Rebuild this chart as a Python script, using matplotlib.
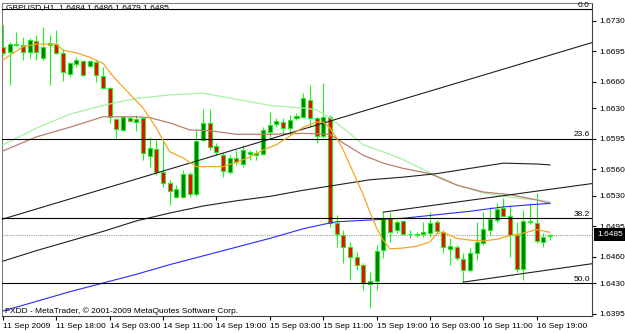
import matplotlib
matplotlib.use("Agg")
import matplotlib.pyplot as plt
import matplotlib.transforms as mtransforms

plt.rcParams['font.family'] = ['Liberation Sans', 'DejaVu Sans']

# GBPUSD H1 candles
opens = [1.6700, 1.6694, 1.6702, 1.6702, 1.6694, 1.6707, 1.6687, 1.6702, 1.6703, 1.6693,
         1.6669, 1.6680, 1.6684, 1.6678, 1.6683, 1.6667, 1.6653, 1.6617, 1.6605, 1.6619,
         1.6614, 1.6619, 1.6575, 1.6583, 1.6557, 1.6544, 1.6528, 1.6528, 1.6555, 1.6532,
         1.6593, 1.6613, 1.6587, 1.6576, 1.6557, 1.6573, 1.6566, 1.6577, 1.6576, 1.6577,
         1.6603, 1.6612, 1.6614, 1.6607, 1.6619, 1.6620, 1.6639, 1.6619, 1.6598, 1.6620,
         1.6499, 1.6485, 1.6471, 1.6460, 1.6451, 1.6429, 1.6432, 1.6468, 1.6504, 1.6491,
         1.6501, 1.6486, 1.6485, 1.6486, 1.6487, 1.6500, 1.6488, 1.6469, 1.6471, 1.6457,
         1.6445, 1.6464, 1.6476, 1.6491, 1.6502, 1.6516, 1.6507, 1.6485, 1.6446, 1.6500,
         1.6499, 1.6477, 1.6484]
highs = [1.6725, 1.6705, 1.6717, 1.6711, 1.6710, 1.6713, 1.6723, 1.6713, 1.6719, 1.6697,
         1.6682, 1.6688, 1.6685, 1.6685, 1.6685, 1.6677, 1.6654, 1.6619, 1.6621, 1.6621,
         1.6622, 1.6620, 1.6597, 1.6593, 1.6593, 1.6548, 1.6542, 1.6559, 1.6557, 1.6605,
         1.6629, 1.6629, 1.6590, 1.6580, 1.6576, 1.6582, 1.6588, 1.6582, 1.6582, 1.6608,
         1.6625, 1.6619, 1.6619, 1.6622, 1.6624, 1.6647, 1.6656, 1.6620, 1.6659, 1.6622,
         1.6508, 1.6491, 1.6477, 1.6465, 1.6453, 1.6443, 1.6473, 1.6511, 1.6511, 1.6502,
         1.6502, 1.6491, 1.6488, 1.6500, 1.6511, 1.6502, 1.6491, 1.6481, 1.6473, 1.6464,
         1.6470, 1.6500, 1.6511, 1.6517, 1.6521, 1.6527, 1.6519, 1.6500, 1.6513, 1.6521,
         1.6533, 1.6487, 1.6486]
lows = [1.6691, 1.6656, 1.6701, 1.6685, 1.6687, 1.6685, 1.6685, 1.6656, 1.6692, 1.6661,
        1.6665, 1.6677, 1.6667, 1.6677, 1.6660, 1.6652, 1.6613, 1.6596, 1.6604, 1.6614,
        1.6604, 1.6571, 1.6563, 1.6553, 1.6540, 1.6519, 1.6527, 1.6527, 1.6528, 1.6529,
        1.6592, 1.6582, 1.6576, 1.6551, 1.6555, 1.6565, 1.6563, 1.6571, 1.6571, 1.6576,
        1.6597, 1.6608, 1.6599, 1.6599, 1.6616, 1.6619, 1.6608, 1.6590, 1.6596, 1.6494,
        1.6471, 1.6453, 1.6433, 1.6445, 1.6422, 1.6401, 1.6422, 1.6459, 1.6477, 1.6487,
        1.6485, 1.6481, 1.6483, 1.6483, 1.6483, 1.6487, 1.6464, 1.6451, 1.6456, 1.6431,
        1.6443, 1.6456, 1.6473, 1.6485, 1.6500, 1.6505, 1.6460, 1.6443, 1.6433, 1.6497,
        1.6476, 1.6471, 1.6479]
closes = [1.6693, 1.6703, 1.6703, 1.6694, 1.6708, 1.6694, 1.6700, 1.6704, 1.6693, 1.6671,
          1.6681, 1.6685, 1.6668, 1.6684, 1.6668, 1.6653, 1.6620, 1.6606, 1.6620, 1.6615,
          1.6617, 1.6579, 1.6584, 1.6557, 1.6544, 1.6535, 1.6537, 1.6555, 1.6532, 1.6592,
          1.6613, 1.6586, 1.6580, 1.6558, 1.6573, 1.6568, 1.6582, 1.6580, 1.6579, 1.6605,
          1.6611, 1.6615, 1.6607, 1.6616, 1.6621, 1.6641, 1.6619, 1.6598, 1.6620, 1.6499,
          1.6486, 1.6471, 1.6460, 1.6451, 1.6430, 1.6432, 1.6467, 1.6504, 1.6488, 1.6500,
          1.6486, 1.6486, 1.6486, 1.6488, 1.6499, 1.6489, 1.6471, 1.6472, 1.6459, 1.6445,
          1.6464, 1.6477, 1.6492, 1.6503, 1.6515, 1.6507, 1.6485, 1.6446, 1.6501, 1.6501,
          1.6478, 1.6483, 1.6485]

# moving averages (bar index, value)
orange_idx = [0, 3, 5, 8, 9, 11, 13, 15, 16, 17, 19, 21, 23, 24, 25, 27, 29, 31, 33, 35,
              37, 39, 41, 43, 45, 47, 48, 49, 50, 51, 52, 53, 54, 55, 56, 57, 58, 60, 62,
              64, 65, 66, 68, 70, 72, 74, 76, 78, 80, 82]
orange_val = [1.6685, 1.6700, 1.6703, 1.6703, 1.6696, 1.6693, 1.6688, 1.6681, 1.6671, 1.6662,
              1.6646, 1.6630, 1.6607, 1.6593, 1.6580, 1.6573, 1.6563, 1.6563, 1.6563, 1.6568,
              1.6574, 1.6582, 1.6588, 1.6598, 1.6608, 1.6614, 1.6614, 1.6607, 1.6596, 1.6582,
              1.6565, 1.6548, 1.6531, 1.6511, 1.6493, 1.6479, 1.6469, 1.6470, 1.6472,
              1.6477, 1.6486, 1.6488, 1.6481, 1.6479, 1.6478, 1.6480, 1.6484, 1.6487, 1.6491, 1.6488]

slow_idx = [0, 5, 10, 15, 20, 25, 30, 35, 40, 45, 47, 49, 51, 54, 57, 60, 64, 68, 72, 76, 80, 82]
lgreen_val = [1.6588, 1.6607, 1.6623, 1.6633, 1.6641, 1.6645, 1.6647, 1.6640, 1.6633, 1.6630, 1.6628,
              1.6619, 1.6607, 1.6588, 1.6580, 1.6571, 1.6556, 1.6542, 1.6533, 1.6528, 1.6525, 1.6523]

brown_idx = [0, 5, 10, 15, 20, 22, 25, 28, 31, 35, 40, 45, 49, 51, 54, 57, 60, 64, 68, 72, 76, 80, 82]
brown_val = [1.6581, 1.6597, 1.6608, 1.6620, 1.6620, 1.6619, 1.6613, 1.6605, 1.6604, 1.6600, 1.6600,
             1.6601, 1.6600, 1.6590, 1.6576, 1.6567, 1.6561, 1.6555, 1.6542, 1.6534, 1.6531, 1.6525, 1.6521]

black_idx = [0, 5, 10, 15, 20, 25, 30, 35, 40, 45, 50, 55, 60, 65, 70, 75, 80, 82]
black_val = [1.6455, 1.6467, 1.6478, 1.6489, 1.6501, 1.6510, 1.6518, 1.6524, 1.6529, 1.6536, 1.6542,
             1.6548, 1.6551, 1.6555, 1.6561, 1.6567, 1.6566, 1.6565]

blue_idx = [0, 5, 10, 15, 20, 25, 30, 35, 40, 45, 48, 50, 55, 60, 65, 70, 75, 80, 82]
blue_val = [1.6398, 1.6409, 1.6420, 1.6430, 1.6440, 1.6451, 1.6461, 1.6471, 1.6481, 1.6492, 1.6497,
            1.6500, 1.6502, 1.6504, 1.6508, 1.6512, 1.6517, 1.6520, 1.6521]

# trendlines: two anchor points each (bar, price)
trend_main = [(10, 1.6526), (70, 1.6663)]
chan_upper = [(57, 1.6511), (80, 1.6535)]
chan_lower = [(69, 1.6431), (80, 1.6443)]

fib_levels = ['0.0', '23.6', '38.2', '50.0']
fib_prices = [1.6743, 1.6595, 1.6504, 1.6430]

last_price = 1.6485
y_ticks = [1.6730, 1.6695, 1.6660, 1.6630, 1.6595, 1.6560, 1.6530, 1.6495, 1.6460, 1.6430, 1.6395]
x_ticks = [0, 8, 16, 24, 32, 40, 48, 56, 64, 72, 80]
x_labels = ['11 Sep 2009', '11 Sep 18:00', '14 Sep 03:00', '14 Sep 11:00', '14 Sep 19:00',
            '15 Sep 03:00', '15 Sep 11:00', '15 Sep 19:00', '16 Sep 03:00', '16 Sep 11:00',
            '16 Sep 19:00']

fig = plt.figure(figsize=(6.25, 3.33), dpi=100)
ax = fig.add_axes([2 / 625, 1 - 316 / 333, 590 / 625, 313.5 / 333])

wick_col = '#22ee22'
idx = list(range(len(opens)))
ax.vlines(idx, lows, highs, color=wick_col, lw=0.8, zorder=3)
bottoms = [min(o, c) for o, c in zip(opens, closes)]
heights = [abs(c - o) for o, c in zip(opens, closes)]
fills = ['#008000' if c >= o else '#ff0000' for o, c in zip(opens, closes)]
ax.bar(idx, heights, bottom=bottoms, width=0.6, color=fills, edgecolor=wick_col,
       linewidth=0.8, zorder=4)

ax.plot(slow_idx, lgreen_val, color='#a8f0a8', lw=0.9, zorder=5)
ax.plot(brown_idx, brown_val, color='#b8806e', lw=0.9, zorder=5)
ax.plot(black_idx, black_val, color='#202020', lw=0.8, zorder=5)
ax.plot(blue_idx, blue_val, color='#2a2aff', lw=0.8, zorder=5)
ax.plot(orange_idx, orange_val, color='#f5a623', lw=0.9, zorder=6)

ax.axline(trend_main[0], trend_main[1], color='#202020', lw=0.8, zorder=5)
for seg in (chan_upper, chan_lower):
    slope = (seg[1][1] - seg[0][1]) / (seg[1][0] - seg[0][0])
    x_end = 90
    ax.plot([seg[0][0], x_end], [seg[0][1], seg[0][1] + slope * (x_end - seg[0][0])],
            color='#202020', lw=0.8, zorder=5)

trans = mtransforms.blended_transform_factory(ax.transAxes, ax.transData)
for lvl, p in zip(fib_levels, fib_prices):
    ax.axhline(p, color='black', lw=0.8, zorder=5)
    ax.text(0.9966, p + 0.00004, lvl, transform=trans, ha='right', va='bottom',
            fontsize=6, zorder=7)

ax.axhline(last_price, color='#a0a0a0', lw=0.8, ls=(0, (1, 1)), zorder=2)
ax.text(1.0085, last_price, '%.4f' % last_price, transform=trans, ha='left', va='center',
        fontsize=6, color='white', clip_on=False,
        bbox=dict(facecolor='black', edgecolor='none', pad=2.2))

ax.set_xlim(-0.15, 88.3)
ax.set_ylim(1.63923, 1.67506)

ax.yaxis.tick_right()
ax.set_yticks(y_ticks)
ax.set_yticklabels(['%.4f' % v for v in y_ticks])
ax.set_xticks(x_ticks)
ax.set_xticklabels(x_labels)
for lbl in ax.get_xticklabels():
    lbl.set_ha('left')
ax.tick_params(axis='both', direction='out', length=3, width=0.8, labelsize=6, pad=2)

for side in ('left', 'top'):
    ax.spines[side].set_color('#808080')
for side in ('right', 'bottom'):
    ax.spines[side].set_color('#404040')
for sp in ax.spines.values():
    sp.set_linewidth(0.8)

ax.text(0.0068, 0.9825, 'GBPUSD,H1  1.6484 1.6486 1.6479 1.6485', transform=ax.transAxes,
        ha='left', va='center', fontsize=6, zorder=7)
ax.text(0.005, 0.016, 'FXDD - MetaTrader, \u00a9 2001-2009 MetaQuotes Software Corp.',
        transform=ax.transAxes, ha='left', va='center', fontsize=6, zorder=7)

fig.savefig('out.png', dpi=100, facecolor='white')
